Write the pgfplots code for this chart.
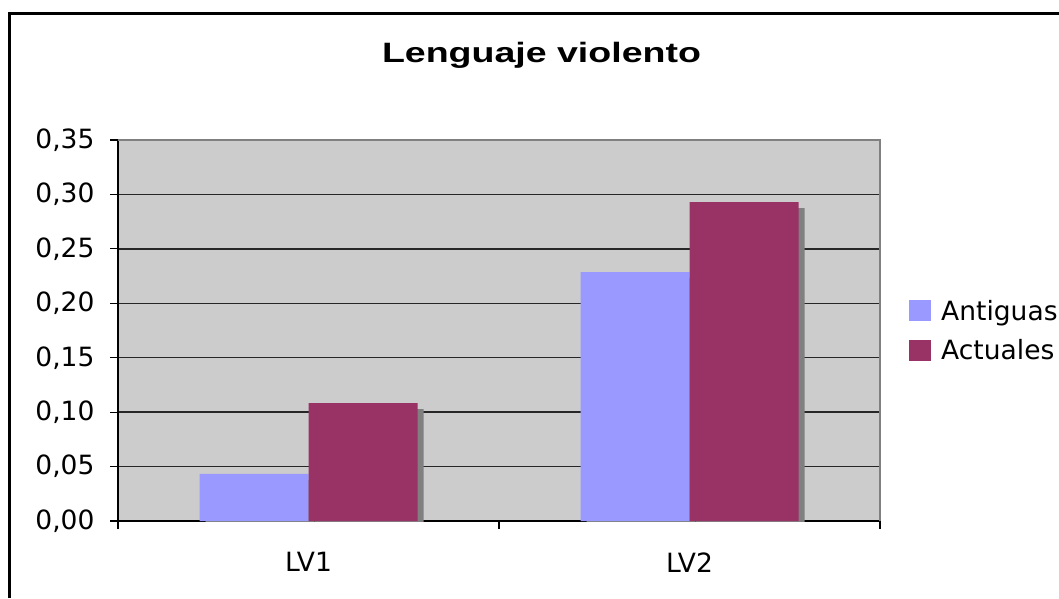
\documentclass[border=0pt]{standalone}
\usepackage{fontspec}
\setmainfont{DejaVu Sans}
\newfontfamily\titlefont{Liberation Sans}[FakeStretch=1.34]
\usepackage{pgfplots}
\pgfplotsset{compat=1.18}
\definecolor{antig}{HTML}{9999FF}
\definecolor{actu}{HTML}{993366}
\definecolor{shad}{HTML}{808080}
\definecolor{bgc}{HTML}{CCCCCC}
\begin{document}
\begin{tikzpicture}
\path[use as bounding box] (0pt,0pt) rectangle (1059pt,598pt);
\draw[line width=2.6pt] (9.3pt,0pt) -- (9.3pt,584.7pt) -- (1059pt,584.7pt);
\node[anchor=base, inner sep=0pt, font=\titlefont\bfseries\fontsize{28}{34}\selectfont] at (541.5pt,535.5pt) {Lenguaje violento};
\begin{axis}[
 name=ax,
 at={(118pt,77pt)}, anchor=south west,
 width=762pt, height=381pt, scale only axis,
 xmin=0, xmax=2, ymin=0, ymax=0.35,
 ybar, bar width=109pt,
 axis background/.style={fill=bgc},
 axis x line*=bottom, axis y line*=left,
 axis line style={black, line width=1.5pt, -},
 xtick={0,1,2}, xticklabels={},
 extra x ticks={0.5,1.5}, extra x tick labels={LV1,LV2},
 extra x tick style={major tick length=0pt, grid=none, tick label style={yshift=-28pt}},
 ytick={0,0.05,0.1,0.15,0.2,0.25,0.3,0.35},
 ymajorgrids, major grid style={black!85, line width=1.3pt},
 tick align=outside, major tick length=8pt,
 tick style={black, line width=1.2pt},
 tick label style={font=\fontsize{26.5}{31}\selectfont},
 /pgf/number format/assume math mode=true,
 yticklabel style={xshift=-12pt, /pgf/number format/.cd, use comma, fixed, fixed zerofill, precision=2},
 legend style={at={(1,0.5)}, anchor=west, draw=none, fill=none, xshift=26pt,
   font=\fontsize{26.5}{31}\selectfont, row sep=14pt},
 legend cell align=left,
 legend image code/.code={\fill[#1] (0pt,-10.5pt) rectangle (22pt,10.5pt); \path (30pt,0pt);},
]
\addplot[fill=shad, draw=none, bar shift=-48.5pt, yshift=-6pt, forget plot] coordinates {(0.5,0.0432) (1.5,0.2287)};
\addplot[fill=shad, draw=none, bar shift=60.5pt, yshift=-6pt, forget plot] coordinates {(0.5,0.1084) (1.5,0.2930)};
\addplot[fill=antig, draw=none, bar shift=-54.5pt] coordinates {(0.5,0.0432) (1.5,0.2287)};
\addplot[fill=actu, draw=none, bar shift=54.5pt] coordinates {(0.5,0.1084) (1.5,0.2930)};
\legend{Antiguas, Actuales}
\end{axis}
\draw[shad, line width=1.2pt] (ax.north west) -- (ax.north east) -- (ax.south east);
\end{tikzpicture}
\end{document}
